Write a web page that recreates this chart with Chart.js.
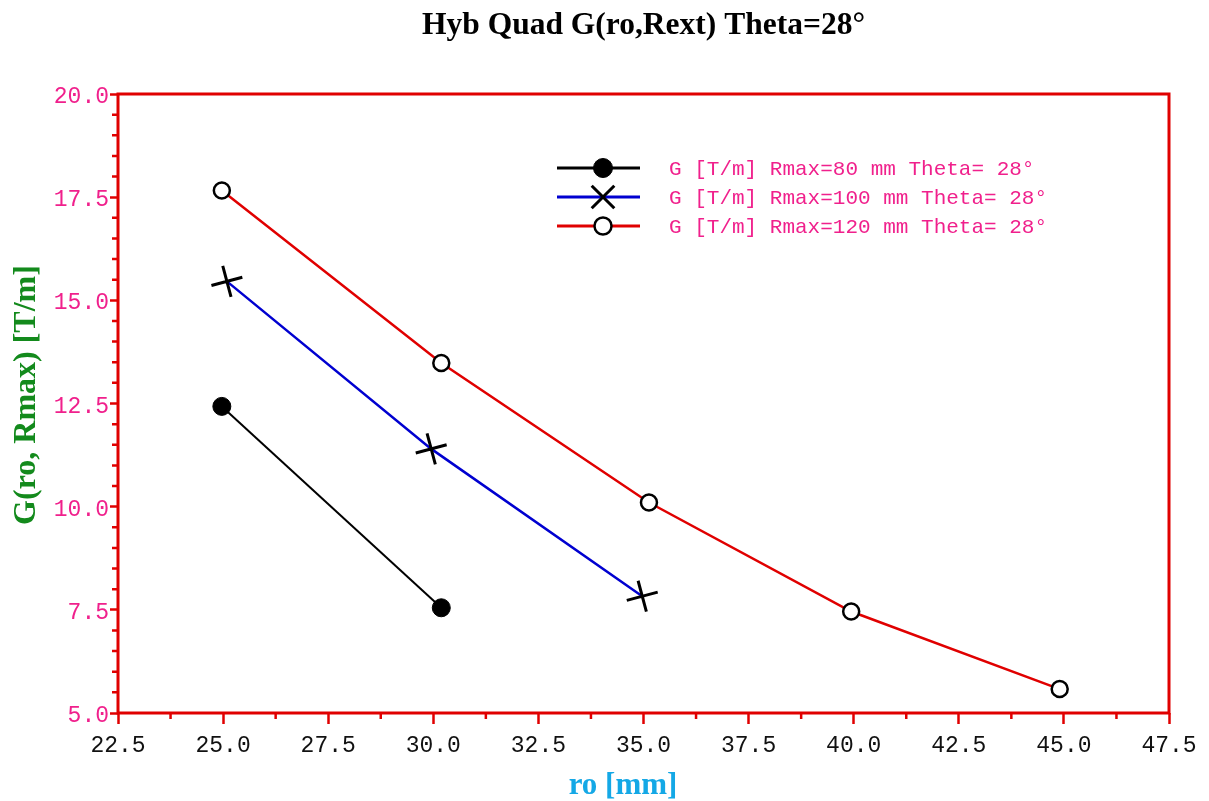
<!DOCTYPE html>
<html>
<head>
<meta charset="utf-8">
<title>Hyb Quad G(ro,Rext)</title>
<script src="https://cdn.jsdelivr.net/npm/chart.js@4/dist/chart.umd.min.js"></script>
<style>
  html, body { margin: 0; padding: 0; background: #fff; }
  canvas { display: block; }
</style>
</head>
<body>
<canvas id="quadChart" width="1209" height="801"></canvas>
<script>
// values
const ro80 = [24.97, 30.19];
const g80 = [12.43, 7.55];
const ro100 = [25.09, 29.95, 34.97];
const g100 = [15.46, 11.40, 7.83];
const ro120 = [24.97, 30.19, 35.13, 39.94, 44.90];
const g120 = [17.66, 13.48, 10.10, 7.46, 5.58];

const seriesLabels = [
    'G [T/m] Rmax=80 mm Theta= 28°',
    'G [T/m] Rmax=100 mm Theta= 28°',
    'G [T/m] Rmax=120 mm Theta= 28°'
];

const chartTitle = 'Hyb Quad G(ro,Rext) Theta=28°';
const xTitle = 'ro [mm]';
const yTitle = 'G(ro, Rmax) [T/m]';

const AXIS_RED = '#e00000';
const PINK = '#f0208c';
const MONO = '"Liberation Mono", "Courier New", monospace';
const SERIF = '"Liberation Serif", "Times New Roman", serif';

function toPoints(xs, ys) {
    return xs.map((x, i) => ({ x: x, y: ys[i] }));
}

// frame, minor ticks, titles, legend
const decorPlugin = {
    id: 'decor',
    afterDraw(chart) {
        const ctx = chart.ctx;
        const area = chart.chartArea;
        const xs = chart.scales.x;
        const ys = chart.scales.y;
        ctx.save();

        ctx.strokeStyle = AXIS_RED;
        ctx.lineWidth = 2.5;
        ctx.beginPath();
        for (let v = 5; v <= 20.001; v += 0.5) {
            if (Math.abs(v / 2.5 - Math.round(v / 2.5)) < 1e-6) continue;
            const py = ys.getPixelForValue(v);
            ctx.moveTo(area.left - 6, py);
            ctx.lineTo(area.left, py);
        }
        for (let v = 22.5; v <= 47.501; v += 1.25) {
            if (Math.abs(v / 2.5 - Math.round(v / 2.5)) < 1e-6) continue;
            const px = xs.getPixelForValue(v);
            ctx.moveTo(px, area.bottom);
            ctx.lineTo(px, area.bottom + 6);
        }
        ctx.stroke();

        ctx.lineWidth = 3;
        ctx.strokeRect(area.left, area.top, area.right - area.left, area.bottom - area.top);

        // main title
        ctx.fillStyle = '#000';
        ctx.font = 'bold 31.5px ' + SERIF;
        ctx.textAlign = 'center';
        ctx.textBaseline = 'middle';
        ctx.fillText(chartTitle, (area.left + area.right) / 2, 26);

        // x title
        ctx.fillStyle = '#14a8e6';
        ctx.font = 'bold 31px ' + SERIF;
        ctx.fillText(xTitle, 623, 786);

        // y title
        ctx.save();
        ctx.translate(27, 395);
        ctx.rotate(-Math.PI / 2);
        ctx.fillStyle = '#138a1c';
        ctx.font = 'bold 32px ' + SERIF;
        ctx.fillText(yTitle, 0, 0);
        ctx.restore();

        // legend
        const legendOpts = chart.data.datasets;
        ctx.font = '21px ' + MONO;
        ctx.textAlign = 'left';
        legendOpts.forEach((ds, i) => {
            const ly = 168 + i * 29;
            ctx.strokeStyle = ds.borderColor;
            ctx.lineWidth = 3;
            ctx.beginPath();
            ctx.moveTo(557, ly);
            ctx.lineTo(640, ly);
            ctx.stroke();
            ctx.fillStyle = ds.pointBackgroundColor;
            ctx.strokeStyle = ds.pointBorderColor;
            ctx.lineWidth = ds.pointBorderWidth;
            Chart.helpers.drawPoint(ctx, {
                pointStyle: i === 1 ? 'crossRot' : ds.pointStyle,
                radius: i === 1 ? 16 : ds.pointRadius + 0.5,
                rotation: 0,
                borderWidth: ds.pointBorderWidth
            }, 603, ly);
            ctx.fillStyle = PINK;
            ctx.fillText(seriesLabels[i], 669, ly + 1);
        });
        ctx.restore();
    }
};

const ctx = document.getElementById('quadChart').getContext('2d');
const quadChart = new Chart(ctx, {
    type: 'line',
    data: {
        datasets: [{
            label: seriesLabels[0],
            data: toPoints(ro80, g80),
            borderColor: '#000000',
            borderWidth: 2,
            pointStyle: 'circle',
            pointRadius: 9,
            pointBackgroundColor: '#000000',
            pointBorderColor: '#000000',
            pointBorderWidth: 1
        }, {
            label: seriesLabels[1],
            data: toPoints(ro100, g100),
            borderColor: '#0000d0',
            borderWidth: 2.5,
            pointStyle: 'cross',
            pointRotation: -15,
            pointRadius: 16,
            pointBackgroundColor: '#000000',
            pointBorderColor: '#000000',
            pointBorderWidth: 3
        }, {
            label: seriesLabels[2],
            data: toPoints(ro120, g120),
            borderColor: '#e00000',
            borderWidth: 2.5,
            pointStyle: 'circle',
            pointRadius: 8,
            pointBackgroundColor: '#ffffff',
            pointBorderColor: '#000000',
            pointBorderWidth: 2.5
        }]
    },
    options: {
        responsive: false,
        animation: false,
        layout: { padding: { top: 94, right: 40, left: 0, bottom: 0 } },
        plugins: {
            legend: { display: false },
            title: { display: false },
            tooltip: { enabled: false }
        },
        elements: { line: { tension: 0 } },
        scales: {
            x: {
                type: 'linear',
                min: 22.5,
                max: 47.5,
                afterFit(scale) { scale.height = 88; },
                border: { display: false },
                grid: {
                    drawOnChartArea: false,
                    drawTicks: true,
                    tickLength: 11,
                    tickWidth: 2.5,
                    tickColor: AXIS_RED
                },
                ticks: {
                    stepSize: 2.5,
                    autoSkip: false,
                    maxRotation: 0,
                    padding: 8,
                    color: '#111',
                    font: { family: MONO, size: 23 },
                    callback: v => Number(v).toFixed(1)
                }
            },
            y: {
                type: 'linear',
                min: 5,
                max: 20,
                afterFit(scale) { scale.width = 118; },
                border: { display: false },
                grid: {
                    drawOnChartArea: false,
                    drawTicks: true,
                    tickLength: 8,
                    tickWidth: 2.5,
                    tickColor: AXIS_RED
                },
                ticks: {
                    stepSize: 2.5,
                    autoSkip: false,
                    padding: 1,
                    labelOffset: 3,
                    color: PINK,
                    font: { family: MONO, size: 23 },
                    callback: v => Number(v).toFixed(1)
                }
            }
        }
    },
    plugins: [decorPlugin]
});
</script>
</body>
</html>
